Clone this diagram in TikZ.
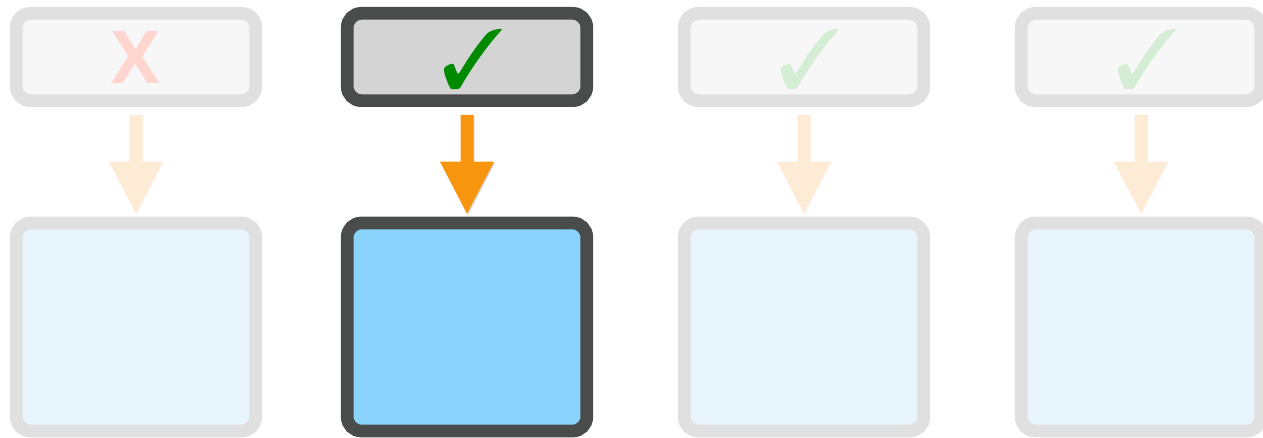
\documentclass[tikz,border=0pt]{standalone}
\usepackage{fontspec}
\setmainfont{Open Sans}
\usepackage{pifont}
\usetikzlibrary{calc}
\definecolor{lgstroke}{HTML}{E0E0E0}
\definecolor{lgfill}{HTML}{F7F7F7}
\definecolor{dkstroke}{HTML}{4A4B4B}
\definecolor{dkfill}{HTML}{D4D4D4}
\definecolor{bluefill}{HTML}{8AD3FD}
\definecolor{fadeblue}{HTML}{E9F5FD}
\definecolor{orangearr}{HTML}{F7950F}
\definecolor{fadeorange}{HTML}{FDEBD6}
\definecolor{checkgreen}{HTML}{008A00}
\definecolor{fadegreen}{HTML}{D4EDD4}
\definecolor{fadered}{HTML}{FFD6CF}
\tikzset{
  boxbase/.style={rectangle, rounded corners=14pt, line width=12.7pt, inner sep=0pt, minimum width=239.5pt},
  topfade/.style={boxbase, draw=lgstroke, fill=lgfill, minimum height=87.3pt},
  topsel/.style={boxbase, draw=dkstroke, fill=dkfill, minimum height=87.3pt},
  botfade/.style={boxbase, draw=lgstroke, fill=fadeblue, minimum height=208pt},
  botsel/.style={boxbase, draw=dkstroke, fill=bluefill, minimum height=208pt},
  tickmark/.style={inner sep=0pt, font=\fontsize{84}{84}\selectfont},
}
\newcommand\blockarr[4]{%
  \fill[black, opacity=#4] let \p1=(#1.south), \p2=(#2.north) in
    (\x1-5.5pt,\y1-9.5pt) -- (\x1+7.5pt,\y1-9.5pt) -- (\x1+7.5pt,\y2+53.5pt)
    -- (\x1+28pt,\y2+53.5pt) -- (\x1+1pt,\y2+1.5pt) -- (\x1-26pt,\y2+53.5pt)
    -- (\x1-5.5pt,\y2+53.5pt) -- cycle;
  \fill[#3] let \p1=(#1.south), \p2=(#2.north) in
    (\x1-6.5pt,\y1-8pt) -- (\x1+6.5pt,\y1-8pt) -- (\x1+6.5pt,\y2+55pt)
    -- (\x1+27pt,\y2+55pt) -- (\x1,\y2+3pt) -- (\x1-27pt,\y2+55pt)
    -- (\x1-6.5pt,\y2+55pt) -- cycle;
}
\begin{document}
\begin{tikzpicture}[x=1pt,y=-1pt]
\useasboundingbox (0,0) rectangle (1263,438);
\node[topfade] (t1) at (136,57) {\textcolor{fadered}{\bfseries\fontsize{73}{73}\selectfont X}};
\node[topsel]  (t2) at (467,57) {};
\node[topfade] (t3) at (804,57) {};
\node[topfade] (t4) at (1141,57) {};
\node[tickmark, text=checkgreen] (c2) at (473.5,59.5) {\ding{51}};
\node[tickmark, text=fadegreen]  (c3) at (810.5,59.5) {\ding{51}};
\node[tickmark, text=fadegreen]  (c4) at (1147.5,59.5) {\ding{51}};
\node[botfade] (b1) at (136,327) {};
\node[botsel]  (b2) at (467,327) {};
\node[botfade] (b3) at (804,327) {};
\node[botfade] (b4) at (1141,327) {};
\blockarr{t1}{b1}{fadeorange}{0.02}
\blockarr{t2}{b2}{orangearr}{0.15}
\blockarr{t3}{b3}{fadeorange}{0.02}
\blockarr{t4}{b4}{fadeorange}{0.02}
\end{tikzpicture}
\end{document}
